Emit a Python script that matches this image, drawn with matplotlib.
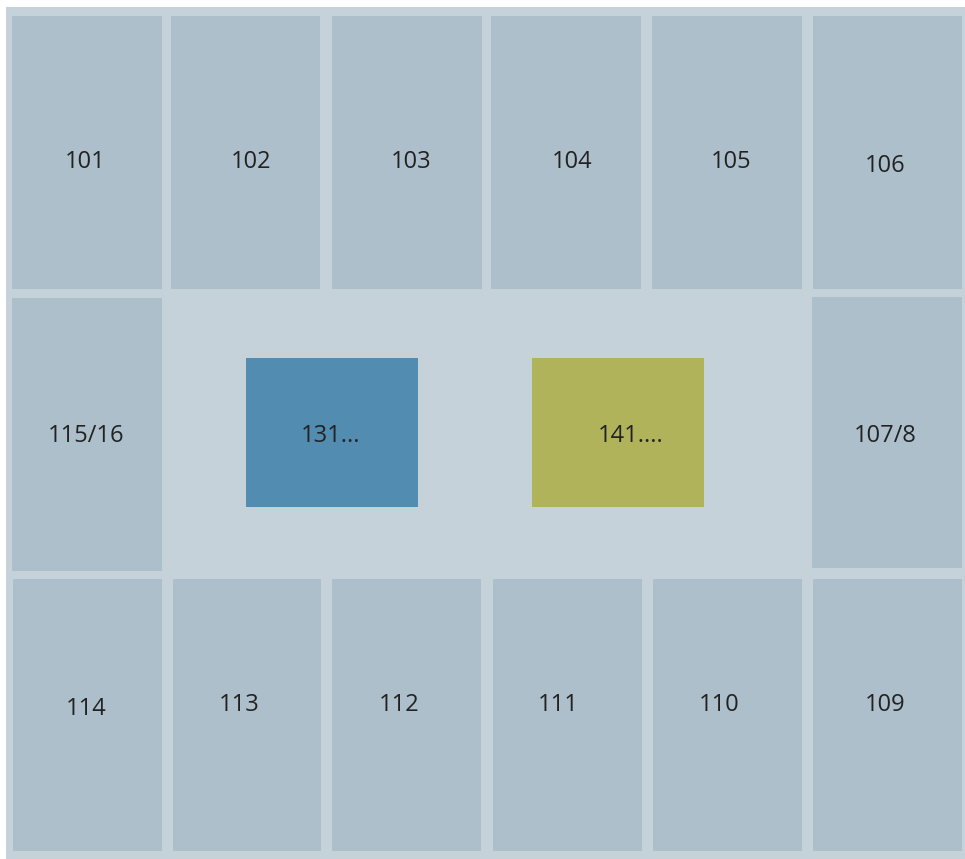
import matplotlib.pyplot as plt
from matplotlib.patches import Rectangle

plt.rcParams['font.family'] = ['Open Sans', 'DejaVu Sans']

# room labels and their rectangles (x0, y0, x1, y1) in floor plan units
labels = ['101', '102', '103', '104', '105', '106',
          '115/16', '107/8',
          '114', '113', '112', '111', '110', '109',
          '131...', '141....']
x0s = [12, 171, 332, 491, 652, 813,
       12, 812,
       13, 173, 332, 493, 653, 813,
       246, 532]
x1s = [162, 320, 482, 641, 802, 962,
       162, 962,
       162, 321, 481, 642, 802, 962,
       418, 704]
y0s = [16, 16, 16, 16, 16, 16,
       298, 297,
       579, 579, 579, 579, 579, 579,
       358, 358]
y1s = [289, 289, 289, 289, 289, 289,
       571, 568,
       851, 851, 851, 851, 851, 851,
       507, 507]
# label anchor points
lx = [85, 251, 411, 572, 731, 885,
      86, 885,
      86, 239, 399, 558, 719, 885,
      331, 631]
ly = [159, 159, 159, 159, 159, 163,
      433, 433,
      706, 702, 702, 702, 702, 702,
      433, 433]
kinds = ['room'] * 14 + ['blue', 'olive']

colors = {'room': '#adbfcb', 'blue': '#538cb1', 'olive': '#b1b35a'}

fig = plt.figure(figsize=(9.65, 8.59), dpi=100)
ax = fig.add_axes([0, 0, 1, 1])
ax.set_xlim(0, 965)
ax.set_ylim(859, 0)
ax.axis('off')

# floor background
ax.add_patch(Rectangle((6, 7), 965 - 6, 859 - 7, facecolor='#c5d2da',
                       edgecolor='none'))

for i in range(len(labels)):
    ax.add_patch(Rectangle((x0s[i], y0s[i]), x1s[i] - x0s[i], y1s[i] - y0s[i],
                           facecolor=colors[kinds[i]], edgecolor='none'))
    ax.text(lx[i], ly[i], labels[i], ha='center', va='center_baseline',
            fontsize=17, color='#222222')

fig.savefig('out.png', dpi=100)
